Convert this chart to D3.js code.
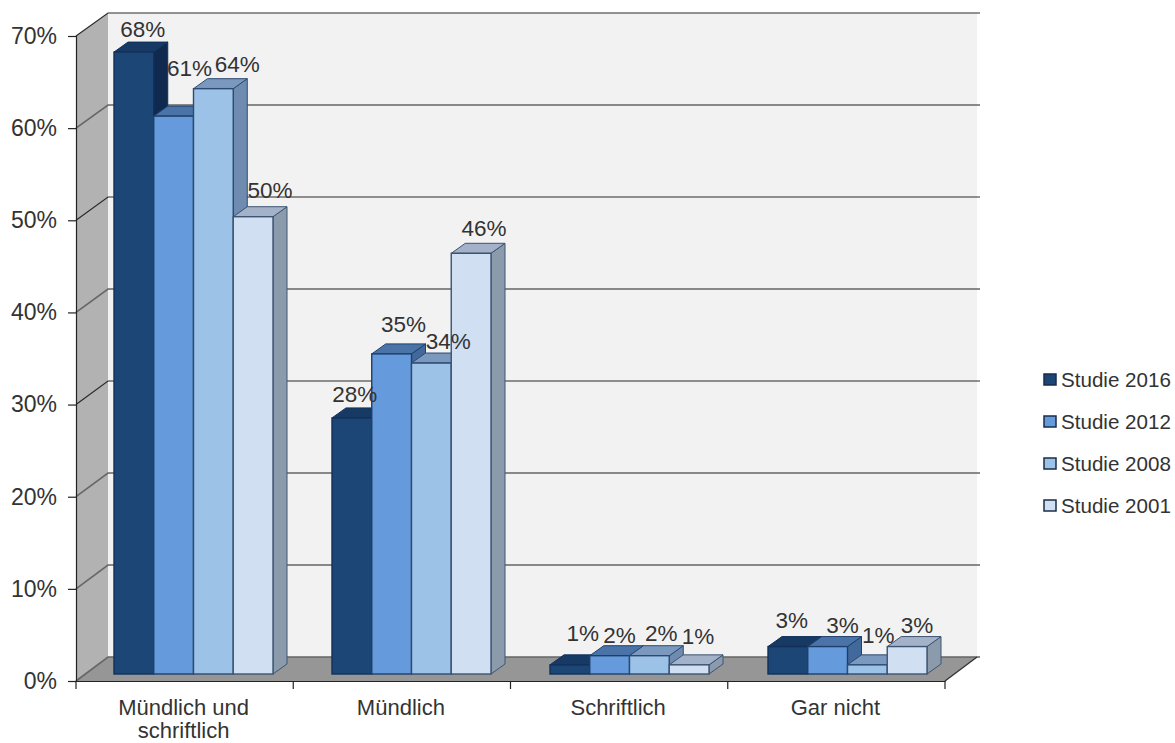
<!DOCTYPE html>
<html lang="de">
<head>
<meta charset="utf-8">
<title>Studienvergleich</title>
<script src="https://cdn.jsdelivr.net/npm/d3@7/dist/d3.min.js"></script>
<style>
  html, body { margin: 0; padding: 0; background: #fff; }
  svg { display: block; }
  text { font-family: "Liberation Sans", Arial, sans-serif; fill: #333; }
</style>
</head>
<body>
<svg id="chart" width="1175" height="743"></svg>
<script>
// Chart values
const categories = ["Mündlich und schriftlich", "Mündlich", "Schriftlich", "Gar nicht"];
const studies = ["Studie 2016", "Studie 2012", "Studie 2008", "Studie 2001"];
const study2016 = [68, 28, 1, 3];
const study2012 = [61, 35, 2, 3];
const study2008 = [64, 34, 2, 1];
const study2001 = [50, 46, 1, 3];
const seriesValues = [study2016, study2012, study2008, study2001];
const axisTicks = [0, 10, 20, 30, 40, 50, 60, 70];

// Hand-placed data label shifts per series and category, [dx, dy] from the default spot
const labelShifts = [
  [[9, 3], [3, 2], [13, -6], [4, -1]],
  [[16, -22], [12, -4], [10, 5], [15, 4]],
  [[24, 1], [17, 4], [12, 3], [11, -4]],
  [[17, -1], [13, 1], [9, -3], [10, 4]]
];

// Faces of each bar: front, top, side
const palette = [
  { front: "#1b4675", top: "#163a63", side: "#10294f", stroke: "#12305a" },
  { front: "#659bdc", top: "#4a74a8", side: "#41699b", stroke: "#1f3f6b" },
  { front: "#9dc2e8", top: "#7b98bf", side: "#6f8cb0", stroke: "#2d4a70" },
  { front: "#d1dff3", top: "#a3b2c8", side: "#8c9bac", stroke: "#3c5472" }
];

const svg = d3.select("#chart");

// Depth offset between the axis plane and the back wall, and inside the bars
const wall = { dx: 32, dy: -24 };
const barDepth = { dx: 14, dy: -10 };

const xOuter = d3.scaleBand().domain(categories).range([76, 945]);
const xBars = d3.scaleBand().domain(categories).range([76, 948]);
const xInner = d3.scaleBand().domain(d3.range(studies.length)).range([38, 197]);
const y = d3.scaleLinear().domain([0, 70]).range([681, 36]);
const yBack = d3.scaleLinear().domain([0, 70]).range([657, 13]);
const yBar = d3.scaleLinear().domain([0, 70]).range([674, 33.8]);

const polygon = pts => pts.map(p => p.join(",")).join(" ");

// Back wall, side wall and floor
const x0 = xOuter.range()[0], x1 = xOuter.range()[1];
svg.append("rect").attr("x", x0 + wall.dx).attr("y", yBack(70))
  .attr("width", x1 - x0).attr("height", yBack(0) - yBack(70)).attr("fill", "#f2f2f2");
svg.append("polygon").attr("fill", "#b2b2b2")
  .attr("points", polygon([[x0, y(70)], [x0 + wall.dx, yBack(70)], [x0 + wall.dx, yBack(0)], [x0, y(0)]]));
svg.append("polygon").attr("fill", "#969696")
  .attr("points", polygon([[x0, y(0)], [x0 + wall.dx, yBack(0)], [x1 + wall.dx, yBack(0)], [x1, y(0)]]));

// Gridlines run along the back wall and fold down the side wall
const grid = svg.append("g").attr("fill", "none");
axisTicks.forEach((t, i) => {
  const dark = i % 2 === 1 && i > 1;
  grid.append("polyline")
    .attr("stroke", dark ? "#2a2a2a" : "#666")
    .attr("stroke-width", dark ? 1.2 : 1.6)
    .attr("points", polygon([[x0, y(t)], [x0 + wall.dx, yBack(t)], [x1 + wall.dx + 3, yBack(t)]]));
});
svg.append("line").attr("x1", x1).attr("y1", y(0)).attr("x2", x1 + wall.dx).attr("y2", yBack(0))
  .attr("stroke", "#333").attr("stroke-width", 1.4);

// Axes
const yAxis = d3.axisLeft(y).tickValues(axisTicks).tickFormat(d => d + "%").tickSize(8).tickPadding(11);
const gy = svg.append("g").attr("transform", `translate(${x0},0)`).call(yAxis);
gy.selectAll("text").style("font-size", "23px").attr("fill", "#333");
gy.selectAll("path,line").attr("stroke", "#222").attr("stroke-width", 1.2);

const xAxis = d3.axisBottom(xOuter).tickSize(0).tickPadding(18);
const gx = svg.append("g").attr("transform", `translate(0,${y(0)})`).call(xAxis);
gx.select(".domain").attr("stroke", "#222").attr("stroke-width", 1.2);
gx.selectAll(".tick").attr("transform", d => `translate(${xOuter(d) + xOuter.bandwidth() / 2 - 1},0)`);
gx.selectAll("text").style("font-size", "22px").attr("fill", "#333").each(function () {
  // Wrap long category names onto a second line
  const label = d3.select(this);
  const words = label.text().split(" ");
  const yPos = label.attr("y");
  label.text(null);
  let line = [];
  let tspan = label.append("tspan").attr("x", 0).attr("y", yPos).attr("dy", "0.71em");
  words.forEach(word => {
    line.push(word);
    tspan.text(line.join(" "));
    if (tspan.node().getComputedTextLength() > xOuter.bandwidth() - 70 && line.length > 1) {
      line.pop();
      tspan.text(line.join(" "));
      line = [word];
      tspan = label.append("tspan").attr("x", 0).attr("dy", "23px").text(word);
    }
  });
});
// Category boundaries carry the x-axis tick marks
gx.selectAll(".edge").data(d3.range(categories.length + 1)).join("line")
  .attr("class", "edge")
  .attr("x1", i => x0 + i * xOuter.step()).attr("x2", i => x0 + i * xOuter.step())
  .attr("y1", 0).attr("y2", 8).attr("stroke", "#222").attr("stroke-width", 1.2);

// Bars, painted left to right so each front covers its neighbour's side
const barsData = categories.flatMap((c, ci) => seriesValues.map((vals, si) => ({ c, ci, si, v: vals[ci] })));
const bars = svg.append("g").selectAll("g").data(barsData).join("g");
const bx = d => xBars(d.c) + xInner(d.si);
const bw = xInner.bandwidth();

bars.append("polygon") // side face
  .attr("points", d => polygon([
    [bx(d) + bw, yBar(d.v)],
    [bx(d) + bw + barDepth.dx, yBar(d.v) + barDepth.dy],
    [bx(d) + bw + barDepth.dx, yBar(0) + barDepth.dy],
    [bx(d) + bw, yBar(0)]]))
  .attr("fill", d => palette[d.si].side).attr("stroke", d => palette[d.si].stroke).attr("stroke-width", 1);
bars.append("polygon") // top face
  .attr("points", d => polygon([
    [bx(d), yBar(d.v)],
    [bx(d) + barDepth.dx, yBar(d.v) + barDepth.dy],
    [bx(d) + bw + barDepth.dx, yBar(d.v) + barDepth.dy],
    [bx(d) + bw, yBar(d.v)]]))
  .attr("fill", d => palette[d.si].top).attr("stroke", d => palette[d.si].stroke).attr("stroke-width", 1);
bars.append("rect") // front face
  .attr("x", bx).attr("y", d => yBar(d.v)).attr("width", bw).attr("height", d => yBar(0) - yBar(d.v))
  .attr("fill", d => palette[d.si].front).attr("stroke", d => palette[d.si].stroke).attr("stroke-width", 1.4);

// Data labels sit above the last layer of bars
svg.append("g").selectAll("text").data(barsData).join("text")
  .attr("x", d => bx(d) + bw / 2 + labelShifts[d.si][d.ci][0])
  .attr("y", d => yBar(d.v) + barDepth.dy - 8 + labelShifts[d.si][d.ci][1])
  .attr("text-anchor", "middle").style("font-size", "22.5px")
  .text(d => d.v + "%");

// Legend
const legendY = d3.scalePoint().domain(studies).range([380, 506]);
const legend = svg.append("g").selectAll("g").data(studies).join("g")
  .attr("transform", s => `translate(1044,${legendY(s)})`);
legend.append("rect").attr("x", 0).attr("y", -6).attr("width", 12).attr("height", 11)
  .attr("fill", (s, i) => palette[i].front).attr("stroke", "#1a2c48").attr("stroke-width", 1.5);
legend.append("text").attr("x", 17).attr("y", 7).style("font-size", "20.6px").text(s => s);
</script>
</body>
</html>
